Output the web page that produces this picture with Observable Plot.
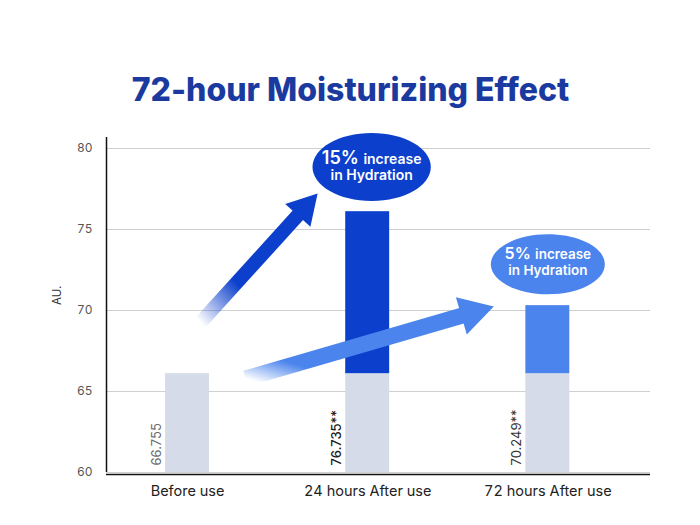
<!DOCTYPE html>
<html><head><meta charset="utf-8">
<script src="https://cdn.jsdelivr.net/npm/d3@7"></script>
<script src="https://cdn.jsdelivr.net/npm/@observablehq/plot@0.6"></script>
<style>body{margin:0;background:#fff;font-family:Inter,sans-serif;}</style>
</head><body><div id="chart"></div>
<script>
// ---- data ----
const title = "72-hour Moisturizing Effect";
const categories = ["Before use", "24 hours After use", "72 hours After use"];
const baseValues = [66.1, 66.1, 66.1];
const afterValues = [null, 76.1, 70.3];
const valueLabels = ["66.755", "76.735**", "70.249**"];
const yTicks = [60, 65, 70, 75, 80];
const yLabel = "AU.";
const calloutBig = ["15%", "5%"];
const calloutRest = ["increase", "increase"];
const calloutLine2 = ["in Hydration", "in Hydration"];
const calloutX = [1.022, 2.0];
const calloutY = [78.86, 72.85];
const arrowX1 = [0.072, 0.322];
const arrowY1 = [69.26, 65.80];
const arrowX2 = [0.722, 1.70];
const arrowY2 = [77.22, 70.25];

// ---- styles ----
const DARK = "#0b3fcc", LIGHT = "#4b84ec", GREY = "#d5dbe8";
const topColors = [null, DARK, LIGHT];
const labelColors = ["#6a6a6a", "#1a1a1a", "#333"];
const labelWeights = [400, 500, 400];
const calloutColors = [DARK, LIGHT];
const calloutAspect = [1.74, 1.9];
const calloutR = [34, 30];
const calloutFont = [[18, 14], [16, 13.5]];
const calloutDy = [[-2.5, 13.5], [-5, 11]];
const headSide = [34, 39];
const shaftWidth = [14, 16];

const W = 700, H = 525, mL = 106, mR = 50, mT = 137, mB = 53;
const xDomain = [-0.45, 2.57], yDomain = [60, 80.68];
const xs = Plot.scale({x: {domain: xDomain, range: [mL, W - mR]}});
const ys = Plot.scale({y: {domain: yDomain, range: [H - mB, mT]}});

const idx = categories.map((d, i) => i);
const half = 0.122;

// arrow geometry
const arrows = arrowX1.map((_, i) => {
  const p1 = [xs.apply(arrowX1[i]), ys.apply(arrowY1[i])];
  const p2 = [xs.apply(arrowX2[i]), ys.apply(arrowY2[i])];
  const dx = p2[0] - p1[0], dy = p2[1] - p1[1], L = Math.hypot(dx, dy);
  const ux = dx / L, uy = dy / L;
  const h = headSide[i] * Math.sqrt(3) / 2;
  const cen = [p2[0] - ux * 2 * h / 3, p2[1] - uy * 2 * h / 3];
  const se = [p2[0] - ux * 0.7 * h, p2[1] - uy * 0.7 * h];
  const side = headSide[i];
  const size = 3 * Math.sqrt(3) * Math.pow(side / (2 * Math.sqrt(3)), 2);
  return {
    x1: arrowX1[i], y1: arrowY1[i],
    x2: xs.invert(se[0]), y2: ys.invert(se[1]),
    cx: xs.invert(cen[0]), cy: ys.invert(cen[1]),
    angle: Math.atan2(ux, -uy) * 180 / Math.PI,
    r: Math.sqrt(size / Math.PI),
    color: calloutColors[i], grad: "grad" + i, sw: shaftWidth[i]
  };
});

function ellipseSymbol(aspect) {
  return {draw(ctx, size) {
    const ry = Math.sqrt(size / Math.PI), rx = ry * aspect, k = 0.5523;
    ctx.moveTo(rx, 0);
    ctx.bezierCurveTo(rx, ry * k, rx * k, ry, 0, ry);
    ctx.bezierCurveTo(-rx * k, ry, -rx, ry * k, -rx, 0);
    ctx.bezierCurveTo(-rx, -ry * k, -rx * k, -ry, 0, -ry);
    ctx.bezierCurveTo(rx * k, -ry, rx, -ry * k, rx, 0);
    ctx.closePath();
  }};
}

const cv = document.createElement("canvas").getContext("2d");
function tw(t, size, weight) { cv.font = `${weight} ${size}px Inter`; return cv.measureText(t).width; }

const marks = [];
marks.push(Plot.ruleY(yTicks, {stroke: "#cfcfcf", strokeWidth: 1}));
marks.push(Plot.rect(idx, {x1: i => i - half, x2: i => i + half, y1: 60, y2: i => baseValues[i], fill: GREY}));
marks.push(Plot.rect(idx.filter(i => afterValues[i] != null), {x1: i => i - half, x2: i => i + half, y1: i => baseValues[i], y2: i => afterValues[i], fill: i => topColors[i]}));
marks.push(Plot.ruleX([xDomain[0]], {stroke: "#111", strokeWidth: 1.5}));
marks.push(Plot.ruleY([60], {stroke: "#111", strokeWidth: 1.5, dy: 2}));
idx.forEach(i => {
  marks.push(Plot.text([valueLabels[i]], {x: i, y: 60, text: d => d, rotate: -90, textAnchor: "start", dx: -31, dy: -7, fontSize: 13, fontWeight: labelWeights[i], fill: labelColors[i]}));
});
arrows.forEach(a => {
  marks.push(Plot.link([a], {x1: "x1", y1: "y1", x2: "x2", y2: "y2", stroke: `url(#${a.grad})`, strokeWidth: a.sw, strokeLinecap: "butt"}));
  marks.push(Plot.dot([a], {x: "cx", y: "cy", symbol: "triangle", r: a.r, rotate: a.angle, fill: a.color, stroke: null}));
});
calloutX.forEach((cx, i) => {
  marks.push(Plot.dot([0], {x: cx, y: calloutY[i], r: calloutR[i], symbol: ellipseSymbol(calloutAspect[i]), fill: calloutColors[i], stroke: null}));
  const [fb, fs] = calloutFont[i];
  const wb = tw(calloutBig[i], fb, 600), gap = tw(" ", fs, 600) + 1, ws = tw(calloutRest[i], fs, 600);
  const left = -(wb + gap + ws) / 2;
  marks.push(Plot.text([calloutBig[i]], {x: cx, y: calloutY[i], text: d => d, textAnchor: "start", dx: left, dy: calloutDy[i][0], lineAnchor: "bottom", fontSize: fb, fontWeight: 600, fill: "white"}));
  marks.push(Plot.text([calloutRest[i]], {x: cx, y: calloutY[i], text: d => d, textAnchor: "start", dx: left + wb + gap, dy: calloutDy[i][0], lineAnchor: "bottom", fontSize: fs, fontWeight: 600, fill: "white"}));
  marks.push(Plot.text([calloutLine2[i]], {x: cx, y: calloutY[i], text: d => d, textAnchor: "middle", dy: calloutDy[i][1], lineAnchor: "bottom", fontSize: fs, fontWeight: 600, fill: "white"}));
});
marks.push(Plot.text([title], {frameAnchor: "top", text: d => d, dx: 350 - (mL + W - mR) / 2, dy: -37, lineAnchor: "bottom", fontSize: 32, fontWeight: 800, fill: "#1b3a9f"}));
marks.push(Plot.text([yLabel], {frameAnchor: "left", text: d => d, dx: -49, rotate: -90, fontSize: 11.5, fill: "#333"}));
marks.push(Plot.axisY({ticks: yTicks, tickSize: 0, tickPadding: 14, fontSize: 12, fill: "#555", label: null}));
marks.push(Plot.axisX({ticks: [0, 1, 2], tickFormat: i => categories[i], tickSize: 0, tickPadding: 13, fontSize: 14.5, fill: "#222", label: null}));

const svg = Plot.plot({
  width: W, height: H, marginLeft: mL, marginRight: mR, marginTop: mT, marginBottom: mB,
  style: {fontFamily: "Inter, sans-serif", background: "white"},
  x: {domain: xDomain, range: [mL, W - mR]},
  y: {domain: yDomain},
  color: {type: "identity"},
  marks
});

// gradients for arrow shafts
const defs = d3.select(svg).insert("defs", ":first-child");
arrows.forEach((a, i) => {
  const g = defs.append("linearGradient").attr("id", a.grad)
    .attr("x1", 0).attr("y1", 1).attr("x2", 1).attr("y2", 0);
  g.append("stop").attr("offset", 0).attr("stop-color", a.color).attr("stop-opacity", 0);
  g.append("stop").attr("offset", i === 0 ? 0.35 : 0.22).attr("stop-color", a.color).attr("stop-opacity", 1);
  g.append("stop").attr("offset", 1).attr("stop-color", a.color).attr("stop-opacity", 1);
});
document.getElementById("chart").appendChild(svg);
</script></body></html>
